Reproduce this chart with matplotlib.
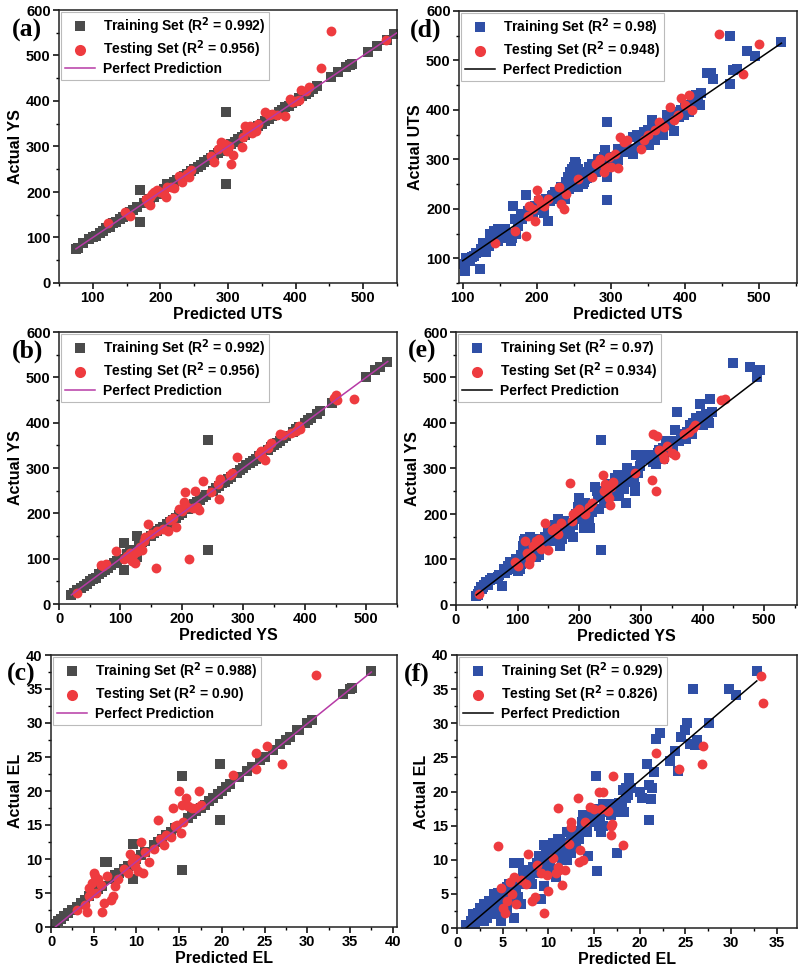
import matplotlib
matplotlib.use("Agg")
import matplotlib.pyplot as plt
from matplotlib.ticker import MultipleLocator, AutoMinorLocator
from matplotlib.lines import Line2D

# ---------------- data ----------------
# (a) Actual YS vs Predicted UTS (left model)
a_train_x = [75,78,85,95,100,105,110,115,120,125,130,135,140,145,150,155,160,165,170,170,175,180,185,190,195,200,205,210,215,220,225,230,235,240,245,250,255,260,265,270,275,280,285,290,297,297,300,305,310,315,320,325,330,335,340,345,350,355,360,365,370,375,380,385,390,395,400,405,410,415,420,425,432,452,462,475,480,483,507,520,535,545]
a_train_y = [75,76,87,97,100,104,110,114,120,124,131,135,140,146,150,156,160,166,205,135,175,181,185,190,196,200,206,218,215,221,226,230,236,240,246,250,256,260,266,270,275,281,286,290,375,217,300,306,310,316,320,326,330,336,340,346,350,356,360,366,370,376,380,386,390,396,400,406,410,415,420,426,432,452,463,475,480,482,508,520,535,547]
a_test_x = [122,148,155,178,182,185,188,190,195,185,200,205,208,210,215,220,228,232,240,245,242,275,280,285,290,295,298,302,305,308,320,322,325,328,332,335,338,342,345,355,360,365,372,385,392,395,400,405,408,415,420,437,452,533]
a_test_y = [132,155,147,185,175,190,195,200,205,172,200,195,188,210,212,208,235,222,240,248,232,280,265,295,310,305,290,300,262,282,298,320,345,335,345,330,340,335,350,375,370,372,370,368,405,398,400,402,425,422,430,473,553,533]
a_line_x = [75, 550]
a_line_y = [75, 550]

# (d) Actual UTS vs Predicted UTS (right model)
d_train_x = [100,103,105,110,112,115,123,128,130,132,135,138,140,143,145,145,148,150,150,152,155,155,158,160,160,162,165,168,170,172,175,178,180,185,185,190,195,200,205,205,210,212,215,218,220,225,225,230,235,238,240,242,245,245,248,250,250,252,255,255,258,260,262,265,265,270,272,275,275,280,280,285,290,292,295,295,295,300,305,310,310,315,320,320,325,330,330,335,340,345,345,350,350,352,355,360,365,370,375,375,380,380,385,388,392,395,400,400,405,405,410,415,415,420,422,430,435,438,460,460,465,470,483,495,530,
             118,125,133,137,142,147,153,157,163,167,175,182,188,198,203,208,222,228,233,243,247,253,257,263,268,278,283,288,298,303,308,318,328,338,348,358,368,378,390,398,408,418]
d_train_y = [88,75,100,95,102,105,78,130,120,112,125,140,150,145,155,148,135,150,155,140,158,145,145,150,145,140,135,205,180,150,165,185,180,228,190,195,190,200,198,210,192,220,175,215,225,235,220,225,240,220,255,265,275,260,250,285,270,295,245,280,255,265,250,260,275,285,270,275,290,290,275,295,305,318,375,217,265,300,290,298,320,320,325,330,318,310,345,350,335,345,355,360,345,330,380,340,370,350,390,380,375,385,358,395,385,400,405,395,395,410,415,430,420,410,435,475,475,462,452,550,480,482,520,508,538,
             110,118,130,150,155,160,150,160,150,140,175,190,195,205,215,205,228,230,245,240,280,290,260,255,262,280,300,285,295,305,295,315,320,340,350,365,360,370,395,390,405,425]
d_test_x = [143,170,185,188,190,195,198,200,202,205,210,215,230,232,236,240,255,275,280,285,290,292,298,300,305,310,312,318,322,340,345,350,360,365,372,380,385,390,395,400,405,410,446,478,500]
d_test_y = [130,155,145,185,205,200,175,238,220,210,205,220,245,210,200,230,260,265,290,300,275,285,305,285,310,282,345,335,340,320,340,350,360,375,365,405,380,390,425,410,430,400,553,472,533]
d_line_x = [100, 530]
d_line_y = [95, 535]

# (b) Actual YS vs Predicted YS (left model)
b_train_x = [20,25,30,35,40,45,50,55,60,65,70,75,80,85,90,95,100,105,105,110,115,120,127,127,130,135,140,150,155,160,165,170,175,180,185,190,195,200,210,215,220,225,230,235,240,242,242,250,255,260,265,270,275,280,290,295,300,305,310,315,320,325,330,340,345,350,355,360,365,370,380,385,390,400,405,410,420,425,445,500,515,522,533]
b_train_y = [20,25,30,36,40,45,50,56,58,66,70,75,80,86,90,95,100,135,75,110,115,120,150,103,130,136,140,150,156,160,166,170,176,180,186,190,196,200,210,216,220,226,230,236,240,362,120,250,256,260,266,270,276,280,290,296,300,306,310,316,320,326,330,340,346,350,356,360,366,370,380,386,390,400,406,410,420,425,443,500,517,522,533]
b_test_x = [30,68,72,76,93,105,110,115,118,120,123,125,128,132,135,138,140,145,150,158,160,170,178,180,185,190,195,200,203,205,208,212,218,222,225,228,235,248,258,260,262,278,282,290,325,328,330,335,340,345,360,365,378,385,390,392,448,450,452,480]
b_test_y = [25,85,83,88,117,100,105,112,95,108,90,115,118,125,120,140,148,177,155,80,160,165,160,185,190,170,210,205,225,248,215,100,212,250,215,208,272,248,265,232,275,285,288,325,330,338,325,318,345,355,375,372,378,382,392,385,455,460,450,453]
b_line_x = [20, 535]
b_line_y = [20, 535]

# (e) Actual YS vs Predicted YS (right model)
e_train_x = [33,35,38,40,42,45,48,50,52,55,60,65,70,75,78,82,85,88,92,95,100,102,105,105,108,110,110,112,115,118,120,120,125,128,130,130,135,140,140,145,150,150,155,160,160,165,168,170,172,175,180,180,185,190,190,195,200,200,205,208,210,212,215,218,220,220,225,230,232,235,235,240,240,245,250,250,255,258,260,262,265,270,270,275,278,280,282,285,290,290,292,295,300,305,310,310,315,320,325,330,335,335,340,342,345,350,355,358,362,368,370,375,380,380,385,390,395,395,400,405,405,410,412,415,450,477,488,493,
             36,44,58,68,80,90,98,103,107,113,117,123,127,133,138,143,148,153,158,163,167,175,183,188,193,198,203,215,225,228,238,248,253,263,268,273,283,288,298,303,318,328,338,348,352,365,373,383,388,398,408]
e_train_y = [20,25,30,40,35,45,50,50,45,55,60,58,65,42,80,78,85,95,90,80,75,100,90,110,130,140,120,145,120,125,150,135,135,110,145,105,110,125,140,150,160,145,140,175,160,190,130,170,145,160,180,170,155,150,175,200,235,190,215,170,225,200,195,170,220,205,260,240,210,362,120,225,230,250,265,245,240,280,270,285,245,260,270,225,300,280,270,285,250,260,330,290,325,320,330,320,330,315,310,340,320,345,360,340,350,355,385,425,360,370,365,380,395,380,400,410,442,405,395,420,400,400,452,425,532,523,500,517,
             22,40,60,62,70,92,100,80,105,130,140,130,125,115,130,145,140,155,165,150,175,185,165,175,195,215,200,180,210,250,240,255,250,240,280,255,295,270,305,330,325,335,325,360,345,375,365,375,400,415,410]
e_test_x = [38,95,100,112,115,118,120,122,125,130,135,138,145,150,155,160,165,170,185,188,190,195,200,210,215,220,238,240,242,245,248,250,252,255,290,318,320,323,325,326,330,335,338,342,350,355,370,378,385,388,430,437]
e_test_y = [25,95,85,140,115,90,100,105,130,140,145,122,180,120,165,170,155,180,268,185,200,205,210,200,215,225,285,250,265,245,235,220,260,270,290,275,375,460,250,372,340,330,320,350,335,330,375,380,390,395,450,453]
e_line_x = [33, 493]
e_line_y = [22, 500]

# (c) Actual EL vs Predicted EL (left model)
c_train_x = [0.5,0.8,1.2,1.5,2,2.5,3,3.5,4,4.5,5,5.5,6,6.3,6.5,7,7.5,8,8.5,9,9.6,9.6,10,10.5,11,12,12.5,13,13.5,14,14.5,15.3,15.3,16,16.5,17,17.5,18,18.5,19,19.5,19.8,19.8,20,20.5,21,22,23,23.5,24.5,25,26,26.8,27.5,28,28.8,29,30,30.5,34.2,35,35.2,37.5]
c_train_y = [0.5,0.9,1.2,1.6,2,2.5,3,3.6,4,4.5,5,5.6,6,9.5,9.5,7,7.6,8,8.5,9,12.2,7.1,10,10.6,11,12,12.5,13,13.6,14,14.5,22.2,8.4,16,16.6,17,17.5,18,18.6,19,19.5,23.9,15.8,20,20.6,21,22,23,23.5,24.6,25,26,26.9,27.5,28,28.9,29,30,30.5,34.2,35,35.1,37.6]
c_test_x = [3,4,4.2,4.5,4.5,4.8,5,5.2,5.3,5.5,5.8,6,6.2,6.5,7,7.2,7.5,7.8,8.5,9,9.2,9.5,9.8,10,10.2,10.5,10.8,11,11.5,12,12.5,12.8,13.2,13.5,14,14.3,14.5,14.8,15,15.2,15.3,15.5,15.8,16,16.5,17,17.3,17.5,21.3,21.5,24,24,25.3,27,31]
c_test_y = [2.5,3.2,2.2,4.5,5.8,6.5,8,7.5,5,7,6.2,2.2,3.5,7.5,4,4.5,6,7,8.5,8,10.8,9.5,9,10,8.2,12.5,8,11,9.5,11.5,15.7,13,12,13.5,13.2,17.5,14.8,15,20,13.8,18,15.5,19,17.8,17.5,17.5,20,18,22.3,33,25.6,23.3,26.6,24,37]
c_line_x = [0.5, 37.5]
c_line_y = [0.0, 37.5]

# (f) Actual EL vs Predicted EL (right model)
f_train_x = [1,1.5,1.8,2,2.2,2.5,2.5,2.8,3,3,3.2,3.5,3.5,3.8,4,4,4.2,4.5,4.5,4.8,5,5.2,5.5,5.5,5.8,6,6,6.2,6.2,6.5,6.5,6.8,7,7,7.2,7.5,7.5,8,8,8.2,8.5,8.8,9,9,9.2,9.5,9.5,9.8,10,10,10.2,10.5,10.5,10.8,11,11,11.2,11.5,11.5,12,12,12.2,12.5,12.5,13,13,13.5,13.8,14,14,14.3,14.5,14.5,15,15,15.2,15.3,15.5,15.5,15.8,16,16,16.5,16.5,17,17,17.5,17.8,18,18,18.2,18.5,18.5,18.8,19,20,20.2,20.8,21,21,21.2,21.3,21.5,21.8,22,22.2,23.3,23.8,24.2,24.5,25,25.2,25.5,25.8,26,26.3,27.6,29.8,30.5,32.8,
             1.3,1.6,2.3,2.7,3.3,3.7,4.3,4.6,5.3,5.7,6.3,6.7,7.3,7.8,8.3,8.7,9.3,9.7,10.3,10.7,11.3,11.8,12.3,12.8,13.3,13.7,14.2,14.7,15.3,15.7,16.3,16.8,17.3,17.7,18.3,18.7]
f_train_y = [0.5,1,2,0.5,1.5,3,1,2,3.5,1,2.5,4,2,3,5,3.5,2,4,5.2,1,5.5,4.5,6,3,4,6.5,5,9.5,1.5,5,7,9.5,7,3.5,8.5,7.5,8.5,8,7,6.5,8.5,8,9,10.5,4.2,12.2,6.2,10,11,9.5,9,12.5,11,7.5,13,12,11,10,12.5,14,10,12,11,13,13.5,12,14,16.5,15,14.5,10.5,16,15.5,17,16.5,22.2,8.4,15,17.5,14,18.2,15,17,18,18.2,17.5,11,17,18,17.5,20.2,19,20.5,22,20.5,20,19,24,21,15.8,18.9,20.5,22.8,27.7,30.5,28.6,24.5,26,23,28,29,30,27,35,26.8,27.5,30,35,34.1,37.6,
             0.2,0.8,2.2,2.8,1.5,3.5,3,2.5,5,6.5,6,4.5,6.5,7.5,9,9.5,8.5,11,10.5,12,13,11.5,12.5,14.2,13,15.5,14,16.5,15.5,16,17.5,16.5,18,18.3,17,19.5]
f_test_x = [4.5,4.8,5,5.2,5.5,5.8,6,6.2,6.5,7,7.5,7.8,8.2,8.5,8.8,9.2,9.5,9.8,10,10.5,10.8,11,11,11.2,11.5,11.8,12.2,12.5,12.5,13.2,13.3,13.5,13.8,14,14.5,15,15.5,15.8,16,16.5,16.8,16.9,17,17.1,18.2,21.8,24.3,26.8,26.9,33.3,33.5]
f_test_y = [12,5.8,3,2.2,4,6.8,5,7.5,3.5,7,6.5,10.9,4,4.5,9.2,8,2.2,7.8,5.4,10.3,8,17.6,9,8.5,6.3,8.5,12.3,15.5,14.8,19,9.7,11.5,10,15.6,17.8,17.5,20,17.5,19.9,17.2,15,13.6,15.2,22.3,12.2,25.6,23.3,24,26.6,36.9,33]
f_line_x = [1.0, 32.8]
f_line_y = [0.0, 36.2]

# ---------------- style ----------------
plt.rcParams['font.family'] = ['Liberation Sans', 'DejaVu Sans']
plt.rcParams['font.weight'] = 'bold'

GRAY = '#4b4b4b'
BLUE = '#2f4fa6'
RED = '#ee3b3f'
MAG = '#b73aa6'

fig = plt.figure(figsize=(8.0, 9.71), dpi=100)
W, H = 800.0, 971.0

def add_ax(left, top, right, bottom):
    return fig.add_axes([left / W, 1 - bottom / H, (right - left) / W, (bottom - top) / H])

panels = [
    ('(a)', (59, 10, 397, 283), (a_train_x, a_train_y), (a_test_x, a_test_y), (a_line_x, a_line_y), GRAY, MAG,
     ('0.992', '0.956'), (50, 550), (0, 600), 100, 100, 'Predicted UTS', 'Actual YS', (12, 30)),
    ('(d)', (459, 11, 797, 283), (d_train_x, d_train_y), (d_test_x, d_test_y), (d_line_x, d_line_y), BLUE, 'black',
     ('0.98', '0.948'), (95, 551), (50, 600), 100, 100, 'Predicted UTS', 'Actual UTS', (410, 30)),
    ('(b)', (59, 332, 397, 604), (b_train_x, b_train_y), (b_test_x, b_test_y), (b_line_x, b_line_y), GRAY, MAG,
     ('0.992', '0.956'), (0, 550), (0, 600), 100, 100, 'Predicted YS', 'Actual YS', (12, 351)),
    ('(e)', (456, 332, 797, 605), (e_train_x, e_train_y), (e_test_x, e_test_y), (e_line_x, e_line_y), BLUE, 'black',
     ('0.97', '0.934'), (0, 553), (0, 600), 100, 100, 'Predicted YS', 'Actual YS', (408, 351)),
    ('(c)', (51, 655, 397, 927), (c_train_x, c_train_y), (c_test_x, c_test_y), (c_line_x, c_line_y), GRAY, MAG,
     ('0.988', '0.90'), (0, 40.5), (0, 40), 5, 5, 'Predicted EL', 'Actual EL', (7, 674)),
    ('(f)', (457, 655, 797, 928), (f_train_x, f_train_y), (f_test_x, f_test_y), (f_line_x, f_line_y), BLUE, 'black',
     ('0.929', '0.826'), (0, 37.2), (0, 40), 5, 5, 'Predicted EL', 'Actual EL', (404, 674)),
]

for (lab, box, tr, te, ln, tcol, lcol, r2, xl, yl, xm, ym, xlab, ylab, lpos) in panels:
    ax = add_ax(*box)
    ax.scatter(tr[0], tr[1], marker='s', s=44, color=tcol, linewidths=0, zorder=2)
    ax.scatter(te[0], te[1], marker='o', s=50, color=RED, linewidths=0, zorder=3)
    ax.plot(ln[0], ln[1], color=lcol, lw=1.1, zorder=4)
    ax.set_xlim(*xl)
    ax.set_ylim(*yl)
    ax.xaxis.set_major_locator(MultipleLocator(xm))
    ax.yaxis.set_major_locator(MultipleLocator(ym))
    ax.xaxis.set_minor_locator(AutoMinorLocator(2))
    ax.yaxis.set_minor_locator(AutoMinorLocator(2))
    ax.tick_params(which='major', direction='out', length=4, width=1.1, labelsize=10.5, pad=2)
    ax.tick_params(which='minor', direction='out', length=2.2, width=1.0)
    for t in ax.get_xticklabels() + ax.get_yticklabels():
        t.set_fontweight('bold')
    for sp in ax.spines.values():
        sp.set_linewidth(1.1)
        sp.set_color('#222222')
    ax.set_xlabel(xlab, fontsize=11.5, fontweight='bold', labelpad=1)
    ax.set_ylabel(ylab, fontsize=11.5, fontweight='bold', labelpad=2)

    handles = [
        Line2D([], [], marker='s', ls='none', color=tcol, markersize=7, markeredgewidth=0),
        Line2D([], [], marker='o', ls='none', color=RED, markersize=8, markeredgewidth=0),
        Line2D([], [], color=lcol, lw=1.1),
    ]
    labels = ['Training Set (R$^\\mathbf{2}$ = %s)' % r2[0],
              'Testing Set (R$^\\mathbf{2}$ = %s)' % r2[1],
              'Perfect Prediction']
    leg = ax.legend(handles, labels, loc='upper left', frameon=True, fancybox=False,
                    framealpha=1, edgecolor='#bbbbbb', borderaxespad=0.15,
                    prop={'weight': 'bold', 'size': 10}, handlelength=2.2,
                    handletextpad=0.6, labelspacing=0.12, borderpad=0.25)
    leg.get_frame().set_linewidth(0.8)
    leg.set_zorder(5)

    fig.text(lpos[0] / W, 1 - lpos[1] / H, lab, fontsize=18.5, fontweight='bold',
             family=['Liberation Serif', 'DejaVu Serif'], va='center', ha='left')

fig.savefig('out.png', dpi=100)
